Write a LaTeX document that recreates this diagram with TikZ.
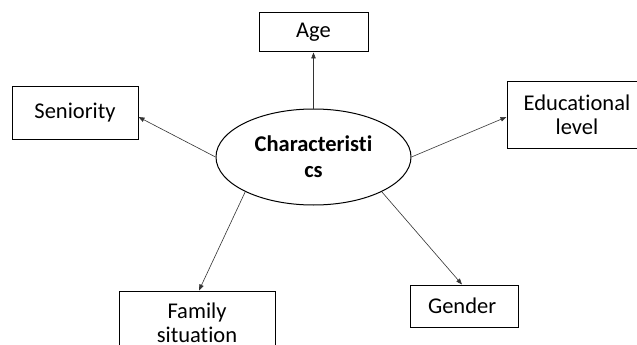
\documentclass[tikz,border=0pt]{standalone}
\usepackage{fontspec}
\setmainfont{Carlito}[Ligatures=NoCommon]
\usetikzlibrary{arrows.meta,shapes.geometric}
\begin{document}
\begin{tikzpicture}[x=1pt,y=-1pt,
  box/.style={draw=black,line width=1pt,inner sep=0pt,align=center,
    font=\fontsize{22.5}{24}\selectfont},
  hub/.style={draw=black,ellipse,line width=1pt,inner sep=0pt,align=center,
    minimum width=195pt,minimum height=96pt,font=\fontsize{22.5}{26}\selectfont\bfseries},
  link/.style={draw=black!80,line width=0.6pt,-{Triangle[length=6pt,width=4.5pt]}}]
\useasboundingbox (0,0) rectangle (637,345);
\fill[white] (0,0) rectangle (637,345);
\node[hub] (ell) at (313.5,157) {Characteristi\\cs};
\node[box,minimum width=109pt,minimum height=39pt] (age) at (313.5,32.5) {Age};
\node[box,minimum width=126pt,minimum height=53pt] (sen) at (75,112.5) {Seniority};
\node[box,minimum width=140pt,minimum height=67pt] (edu) at (577,114.5) {Educational\\level};
\node[box,minimum width=108pt,minimum height=42pt] (gen) at (464,306) {Gender\,};
\node[box,minimum width=156pt,minimum height=64pt] (fam) at (197,323) {Family\\situation};
\draw[link] (ell.north) -- (age.south);
\draw[link] (ell.west) -- ([yshift=-4.5pt]sen.east);
\draw[link] (ell.east) -- ([yshift=-2.5pt]edu.west);
\draw[link] (ell.-27) -- ([xshift=-2pt]gen.north);
\draw[link] (ell.207) -- ([xshift=2pt]fam.north);
\end{tikzpicture}
\end{document}
